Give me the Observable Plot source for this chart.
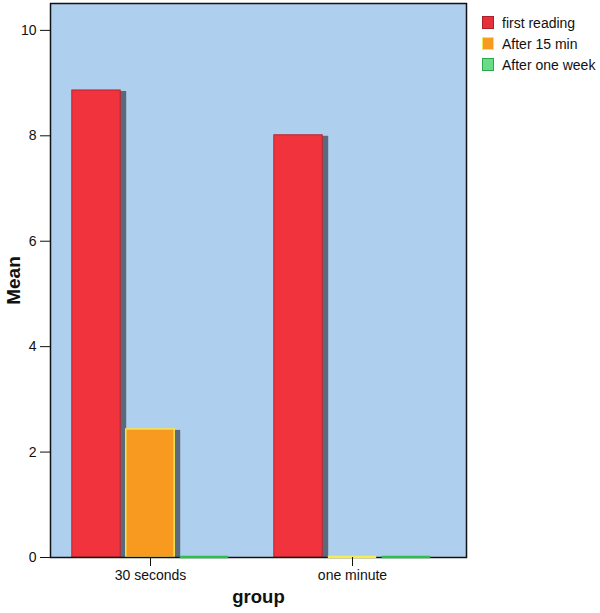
<!DOCTYPE html>
<html>
<head>
<meta charset="utf-8">
<script src="https://cdn.jsdelivr.net/npm/d3@7"></script>
<script src="https://cdn.jsdelivr.net/npm/@observablehq/plot@0.6"></script>
<style>
  html, body { margin: 0; padding: 0; background: #fff; }
  #wrap { position: relative; width: 600px; height: 613px; font-family: "Liberation Sans", Arial, sans-serif; }
  #legend { position: absolute; left: 482px; top: 12px; font-size: 14px; color: #111; }
  #legend .row { display: flex; align-items: center; height: 21px; }
  #legend .sw { width: 10px; height: 11px; margin-right: 8px; border: 1px solid; }
</style>
</head>
<body>
<div id="wrap"><div id="legend"></div></div>
<script>
const groups = ["30 seconds", "one minute"];
const series = ["first reading", "After 15 min", "After one week"];
const firstReading = [8.86, 8.01];
const after15 = [2.43, 0];
const afterWeek = [0, 0];
const yTicks = [0, 2, 4, 6, 8, 10];

const fills = ["#f0333d", "#f89a1f", "#5fd67d"];
const strokes = ["#b82530", "#f3e456", "#2cb84c"];
const legendFills = ["#e8303a", "#f89a1f", "#6adb88"];
const legendStrokes = ["#a8202a", "#f3e456", "#2ca84a"];
const shadow = "#5a6a7c";

const valuesBySeries = [firstReading, after15, afterWeek];
const data = [];
series.forEach((s, si) => groups.forEach((g, gi) => data.push({group: g, series: s, si, value: valuesBySeries[si][gi]})));

const barWidth = 48;
const bandwidth = 202 * 0.8;
const inset = (bandwidth - barWidth) / 2;
const offsets = [-54, 0, 54];

const marks = [Plot.frame({fill: "#aecfee"})];
series.forEach((s, si) => {
  marks.push(Plot.barY(data.filter(d => d.si === si), {
    x: "group", y: "value", fill: shadow, insetLeft: inset, insetRight: inset, dx: offsets[si] + 6, dy: 1
  }));
});
series.forEach((s, si) => {
  marks.push(Plot.barY(data.filter(d => d.si === si && d.value > 0), {
    x: "group", y: "value", fill: fills[si], stroke: strokes[si], strokeWidth: si === 0 ? 1 : 1.5,
    insetLeft: inset, insetRight: inset, dx: offsets[si]
  }));
});
marks.push(Plot.frame({stroke: "#111", strokeWidth: 1.5}));
series.forEach((s, si) => {
  marks.push(Plot.tickY(data.filter(d => d.si === si && d.value === 0), {
    x: "group", y: "value", stroke: si === 1 ? "#f5ec5a" : "#2cbf4e", strokeWidth: 2.5,
    insetLeft: inset, insetRight: inset, dx: offsets[si], dy: -0.5
  }));
});
marks.push(
  Plot.axisY({ticks: yTicks, tickSize: 10, tickPadding: 4, fontSize: 14, label: null, stroke: "#111"}),
  Plot.axisX({tickSize: 9, tickPadding: 4, fontSize: 14, label: null, stroke: "#111"}),
  Plot.text(["group"], {frameAnchor: "bottom", dy: 45, text: d => d, fontSize: 18.5, fontWeight: "bold", fill: "#111"}),
  Plot.text(["Mean"], {frameAnchor: "left", textAnchor: "middle", dx: -37, text: d => d, rotate: -90, fontSize: 19, fontWeight: "bold", fill: "#111"})
);

const chart = Plot.plot({
  width: 600,
  height: 613,
  marginLeft: 50,
  marginRight: 134,
  marginTop: 3,
  marginBottom: 56,
  style: {fontFamily: "'Liberation Sans', Arial, sans-serif", background: "#fff", color: "#111"},
  x: {domain: groups, paddingInner: 0.2, paddingOuter: 0.1297, align: 0.366, axis: null},
  y: {domain: [0, 10.51], axis: null},
  marks
});
const wrap = document.getElementById("wrap");
wrap.insertBefore(chart, wrap.firstChild);

const legend = document.getElementById("legend");
series.forEach((s, i) => {
  const row = document.createElement("div");
  row.className = "row";
  const sw = document.createElement("div");
  sw.className = "sw";
  sw.style.background = legendFills[i];
  sw.style.borderColor = legendStrokes[i];
  const t = document.createElement("span");
  t.textContent = s;
  row.appendChild(sw); row.appendChild(t);
  legend.appendChild(row);
});
</script>
</body>
</html>
